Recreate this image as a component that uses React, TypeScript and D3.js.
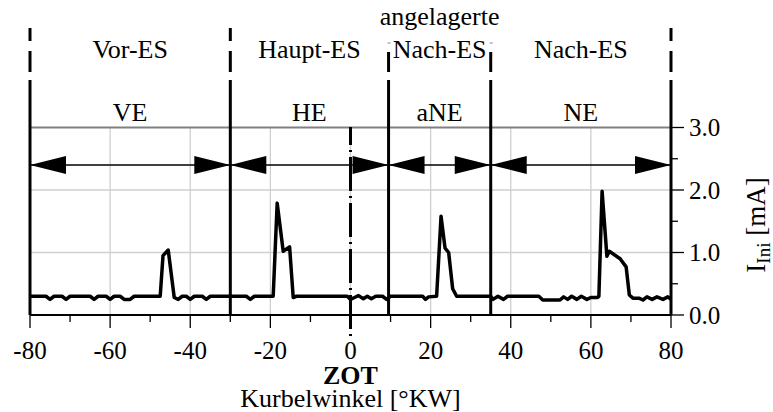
import React from "react";
import * as d3 from "d3";

// ---- data ----
const angles: number[] = [
  -80, -76, -75, -74, -72, -71, -70, -65, -64, -63, -61, -60, -59, -57.5, -56.5, -55, -54,
  -47.5, -46.8, -45.5, -44, -43, -42, -41, -40, -39, -37, -36, -35,
  -30, -26, -25, -24, -19.3, -18.3, -16.8, -15.2, -14.3, -13.5, -0.8, 0, 1, 2, 3.2, 4.2, 5.2, 6.3, 8, 9, 10,
  18, 18.7, 19.5, 21.5, 22.6, 23.6, 24.5, 25.5, 26.5, 35,
  35.6, 36.8, 38.2, 39.2, 47, 48, 52.3, 53.2, 54.2, 55.2, 56.5, 57.6, 59, 60, 61.6,
  62.0, 62.8, 64.0, 64.6, 67.3, 68.8, 69.6, 70.5, 72, 73, 74, 75.3, 76.5, 78, 79.2, 80,
];
const current: number[] = [
  0.3, 0.3, 0.25, 0.3, 0.3, 0.25, 0.3, 0.3, 0.25, 0.3, 0.3, 0.25, 0.3, 0.3, 0.25, 0.25, 0.3,
  0.3, 0.95, 1.04, 0.28, 0.25, 0.3, 0.3, 0.25, 0.3, 0.3, 0.25, 0.3,
  0.3, 0.3, 0.25, 0.3, 0.3, 1.79, 1.02, 1.09, 0.28, 0.3, 0.3, 0.25, 0.28, 0.31, 0.26, 0.3, 0.26, 0.3, 0.3, 0.25, 0.3,
  0.3, 0.25, 0.29, 0.3, 1.58, 1.07, 1.0, 0.42, 0.3, 0.3,
  0.25, 0.3, 0.25, 0.3, 0.3, 0.24, 0.24, 0.29, 0.25, 0.3, 0.25, 0.3, 0.25, 0.28, 0.28,
  0.3, 1.98, 0.94, 1.02, 0.9, 0.77, 0.32, 0.27, 0.27, 0.24, 0.29, 0.25, 0.29, 0.25, 0.29, 0.25,
];

const boundaries: number[] = [-80, -30, 9.5, 35, 80];
const abbrevs: string[] = ["VE", "HE", "aNE", "NE"];
const phaseNames: string[] = ["Vor-ES", "Haupt-ES", "Nach-ES", "Nach-ES"];
const xTickValues: number[] = [-80, -70, -60, -50, -40, -30, -20, -10, 0, 10, 20, 30, 40, 50, 60, 70, 80];
const xTickLabels: string[] = ["-80", "-60", "-40", "-20", "0", "20", "40", "60", "80"];
const yTickValues: number[] = [0, 0.5, 1, 1.5, 2, 2.5, 3];
const yTickLabels: string[] = ["0.0", "1.0", "2.0", "3.0"];
const xGrid: number[] = [-60, -40, -20, 0, 20, 40, 60];
const yGrid: number[] = [1, 2];
const arrowLevel = 2.4;

const FONT = "Liberation Serif, Tinos, Times New Roman";

function Txt(props: any) {
  const { children, ...rest } = props;
  return (
    <text fontFamily={FONT} style={{ fontFamily: FONT }} fill="#000" {...rest}>
      {children}
    </text>
  );
}

export default function App() {
  const x = d3.scaleLinear().domain([-80, 80]).range([30, 671]);
  const y = d3.scaleLinear().domain([0, 3]).range([315, 127.5]);
  const line = d3
    .line<number>()
    .x((_, i) => x(angles[i]))
    .y((d) => y(d));
  const ay = y(arrowLevel);
  const headL = 36;
  const headH = 9;

  const solidTop = 80;
  const fullDashBounds = [boundaries[0], boundaries[1], boundaries[4]];
  const halfDashBounds = [boundaries[2], boundaries[3]];

  return (
    <svg width={773} height={412} style={{ position: "absolute", left: 0, top: 0, background: "#fff" }}>
      <rect x={0} y={0} width={773} height={412} fill="#fff" />
      {/* grid */}
      {xGrid.map((v) => (
        <line key={"gx" + v} x1={x(v)} x2={x(v)} y1={y(3)} y2={y(0)} stroke="#cfcfcf" strokeWidth={1.3} />
      ))}
      {yGrid.map((v) => (
        <line key={"gy" + v} x1={x(-80)} x2={x(80)} y1={y(v)} y2={y(v)} stroke="#cfcfcf" strokeWidth={1.3} />
      ))}
      <line x1={x(-80)} x2={x(80)} y1={y(3)} y2={y(3)} stroke="#808080" strokeWidth={2} />

      {/* arrows */}
      {abbrevs.map((a, i) => {
        const x0 = x(boundaries[i]);
        const x1 = x(boundaries[i + 1]);
        return (
          <g key={"ar" + a}>
            <line x1={x0} x2={x1} y1={ay} y2={ay} stroke="#000" strokeWidth={1.5} />
            <polygon points={`${x0},${ay} ${x0 + headL},${ay - headH} ${x0 + headL},${ay + headH}`} fill="#000" />
            <polygon points={`${x1},${ay} ${x1 - headL},${ay - headH} ${x1 - headL},${ay + headH}`} fill="#000" />
          </g>
        );
      })}

      {/* boundary lines */}
      {boundaries.map((b) => (
        <line key={"bs" + b} x1={x(b)} x2={x(b)} y1={solidTop} y2={y(0)} stroke="#000" strokeWidth={3} />
      ))}
      {fullDashBounds.map((b) => (
        <g key={"bd" + b}>
          <line x1={x(b)} x2={x(b)} y1={28} y2={41} stroke="#000" strokeWidth={3} />
          <line x1={x(b)} x2={x(b)} y1={51} y2={72} stroke="#000" strokeWidth={3} />
        </g>
      ))}
      {halfDashBounds.map((b) => (
        <g key={"bh" + b}>
          <line x1={x(b)} x2={x(b)} y1={52} y2={72} stroke="#000" strokeWidth={3} />
          <line x1={x(b) - 1} x2={x(b) + 2} y1={43} y2={43} stroke="#888" strokeWidth={1} />
        </g>
      ))}

      {/* ZOT dash-dot */}
      <line
        x1={x(0)}
        x2={x(0)}
        y1={127}
        y2={337}
        stroke="#000"
        strokeWidth={3}
        strokeDasharray="34 5 2 5"
        strokeDashoffset={16}
      />

      {/* signal */}
      <path d={line(current) || ""} fill="none" stroke="#000" strokeWidth={3.5} strokeLinejoin="round" />

      {/* axes */}
      <line x1={x(-80)} x2={x(80)} y1={y(0)} y2={y(0)} stroke="#000" strokeWidth={2} />
      {xTickValues.map((v) => {
        const major = v % 20 === 0;
        return (
          <line key={"xt" + v} x1={x(v)} x2={x(v)} y1={y(0)} y2={y(0) + (major ? 13 : 7)} stroke="#000" strokeWidth={1.3} />
        );
      })}
      {xTickLabels.map((t) => (
        <Txt key={"xl" + t} x={x(+t)} y={359} fontSize={25} textAnchor="middle">
          {t}
        </Txt>
      ))}
      {yTickValues.map((v) => {
        const major = v % 1 === 0;
        return (
          <line key={"yt" + v} x1={x(80)} x2={x(80) + (major ? 13 : 7)} y1={y(v)} y2={y(v)} stroke="#000" strokeWidth={1.3} />
        );
      })}
      {yTickLabels.map((t) => (
        <Txt key={"yl" + t} x={689} y={y(+t) + 8.5} fontSize={25} textAnchor="start">
          {t}
        </Txt>
      ))}

      {/* region labels */}
      {abbrevs.map((a, i) => (
        <Txt key={"ab" + a} x={x((boundaries[i] + boundaries[i + 1]) / 2)} y={121} fontSize={26} textAnchor="middle">
          {a}
        </Txt>
      ))}
      {phaseNames.map((p, i) => (
        <Txt key={"pn" + i} x={x((boundaries[i] + boundaries[i + 1]) / 2)} y={58} fontSize={26} textAnchor="middle">
          {p}
        </Txt>
      ))}
      <Txt x={x((boundaries[2] + boundaries[3]) / 2)} y={25} fontSize={26} textAnchor="middle">
        angelagerte
      </Txt>

      {/* axis titles */}
      <Txt x={x(0)} y={384} fontSize={26} fontWeight="bold" textAnchor="middle">
        ZOT
      </Txt>
      <Txt x={x(0)} y={407} fontSize={26} textAnchor="middle">
        Kurbelwinkel [°KW]
      </Txt>
      <Txt transform="translate(765,225) rotate(-90)" fontSize={27} textAnchor="middle">
        I<tspan fontSize={19} dy={5}>Ini</tspan>
        <tspan dy={-5}> [mA]</tspan>
      </Txt>
    </svg>
  );
}
